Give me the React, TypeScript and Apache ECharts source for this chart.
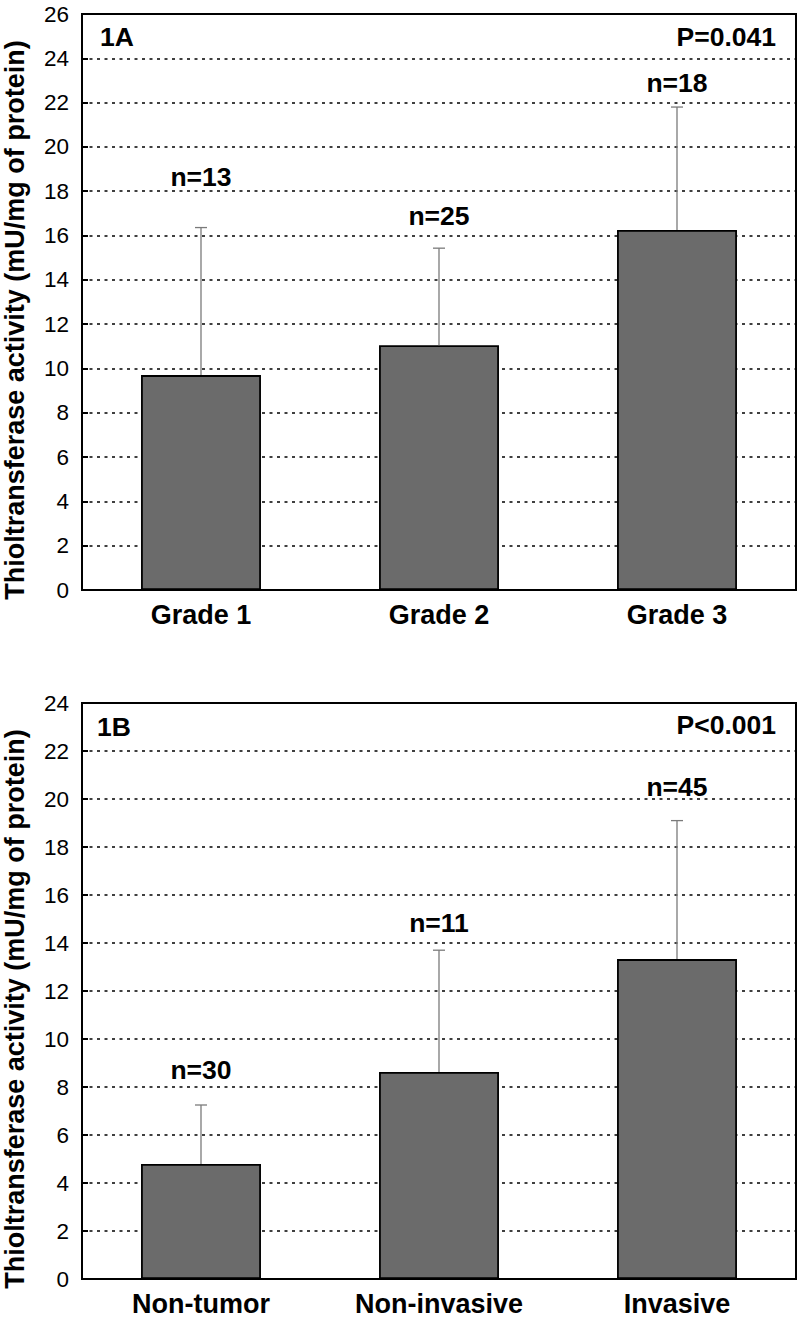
import React, { useEffect, useRef } from "react";
import * as echarts from "echarts";

// Panel 1A
const catsA = ["Grade 1", "Grade 2", "Grade 3"];
const meanA = [9.7, 11.05, 16.25];
const sdA = [6.66, 4.38, 5.55];
const nA = ["n=13", "n=25", "n=18"];
const nPosA = [18.63, 16.9, 22.87];
const pA = "P=0.041";
const tagA = "1A";

// Panel 1B
const catsB = ["Non-tumor", "Non-invasive", "Invasive"];
const meanB = [4.79, 8.63, 13.33];
const sdB = [2.46, 5.07, 5.77];
const nB = ["n=30", "n=11", "n=45"];
const nPosB = [8.71, 14.83, 20.5];
const pB = "P<0.001";
const tagB = "1B";

const yTitle = "Thioltransferase activity (mU/mg of protein)";
const FONT = "Liberation Sans, Arial, Helvetica, sans-serif";

export default function App() {
  const ref = useRef<HTMLDivElement>(null);
  useEffect(() => {
    if (!ref.current) return;
    const chart = echarts.init(ref.current, null, { renderer: "svg" });

    const grids = [
      { left: 82, top: 14, right: 4, height: 576 },
      { left: 82, top: 703, right: 4, height: 576 },
    ];

    const mkX = (cats: string[], gi: number) => ({
      type: "category",
      gridIndex: gi,
      data: cats,
      axisLine: { lineStyle: { color: "#000", width: 2 } },
      axisTick: { show: false },
      axisLabel: {
        color: "#000",
        fontSize: 27,
        fontWeight: "bold",
        fontFamily: FONT,
        margin: 11,
      },
      splitLine: { show: false },
    });
    const mkY = (max: number, gi: number) => ({
      type: "value",
      gridIndex: gi,
      min: 0,
      max,
      interval: 2,
      axisLine: { show: true, lineStyle: { color: "#000", width: 2 } },
      axisTick: { show: true, inside: true, length: 6, lineStyle: { color: "#000", width: 2 } },
      axisLabel: { color: "#000", fontSize: 22.5, fontFamily: FONT, margin: 13 },
      splitLine: { show: true, lineStyle: { color: "#000", width: 1.5, type: [3, 4.5] } },
    });

    const barSeries = (data: number[], gi: number) => ({
      type: "bar",
      xAxisIndex: gi,
      yAxisIndex: gi,
      data,
      barWidth: "50.4%",
      itemStyle: { color: "#6b6b6b", borderColor: "#000", borderWidth: 1.8 },
      z: 2,
    });

    const errSeries = (mean: number[], sd: number[], gi: number) => ({
      type: "custom",
      xAxisIndex: gi,
      yAxisIndex: gi,
      z: 3,
      data: mean.map((m, i) => [i, m, sd[i]]),
      renderItem: (params: any, api: any) => {
        const x = api.value(0);
        const m = api.value(1);
        const s = api.value(2);
        const b = api.coord([x, m]);
        const t = api.coord([x, m + s]);
        const st = { stroke: "#7a7a7a", lineWidth: 1.3 };
        return {
          type: "group",
          children: [
            { type: "line", shape: { x1: b[0], y1: b[1], x2: t[0], y2: t[1] }, style: st },
            { type: "line", shape: { x1: t[0] - 6, y1: t[1], x2: t[0] + 6, y2: t[1] }, style: st },
          ],
        };
      },
    });

    const nSeries = (labels: string[], pos: number[], gi: number) => ({
      type: "scatter",
      xAxisIndex: gi,
      yAxisIndex: gi,
      symbolSize: 1,
      itemStyle: { color: "rgba(0,0,0,0)", opacity: 1 },
      z: 4,
      data: pos.map((p, i) => ({ value: [i, p], name: labels[i] })),
      label: {
        show: true,
        position: "inside",
        formatter: (p: any) => p.name,
        color: "#000",
        textBorderWidth: 0,
        fontSize: 26.5,
        fontWeight: "bold",
        fontFamily: FONT,
      },
    });

    const txt = (text: string, x: number, y: number, align: string) => ({
      type: "text",
      x,
      y,
      style: {
        text,
        fill: "#000",
        font: `bold 26.5px ${FONT}`,
        textAlign: align,
        textVerticalAlign: "middle",
      },
    });

    const title = (y: number) => ({
      type: "text",
      x: 15,
      y,
      rotation: Math.PI / 2,
      style: {
        text: yTitle,
        fill: "#000",
        font: `bold 27px ${FONT}`,
        textAlign: "center",
        textVerticalAlign: "middle",
      },
    });

    chart.setOption({
      animation: false,
      backgroundColor: "#fff",
      grid: grids.map((g) => ({
        ...g,
        show: true,
        borderColor: "#000",
        borderWidth: 2,
        backgroundColor: "transparent",
      })),
      xAxis: [mkX(catsA, 0), mkX(catsB, 1)],
      yAxis: [mkY(26, 0), mkY(24, 1)],
      series: [
        barSeries(meanA, 0),
        errSeries(meanA, sdA, 0),
        nSeries(nA, nPosA, 0),
        barSeries(meanB, 1),
        errSeries(meanB, sdB, 1),
        nSeries(nB, nPosB, 1),
      ],
      graphic: [
        txt(tagA, 100, 37, "left"),
        txt(pA, 776, 37, "right"),
        txt(tagB, 97, 727, "left"),
        txt(pB, 776, 725, "right"),
        title(320),
        title(1009),
      ],
    });
    return () => chart.dispose();
  }, []);
  return (
    <div
      ref={ref}
      style={{ position: "absolute", left: 0, top: 0, width: 800, height: 1318 }}
    />
  );
}
